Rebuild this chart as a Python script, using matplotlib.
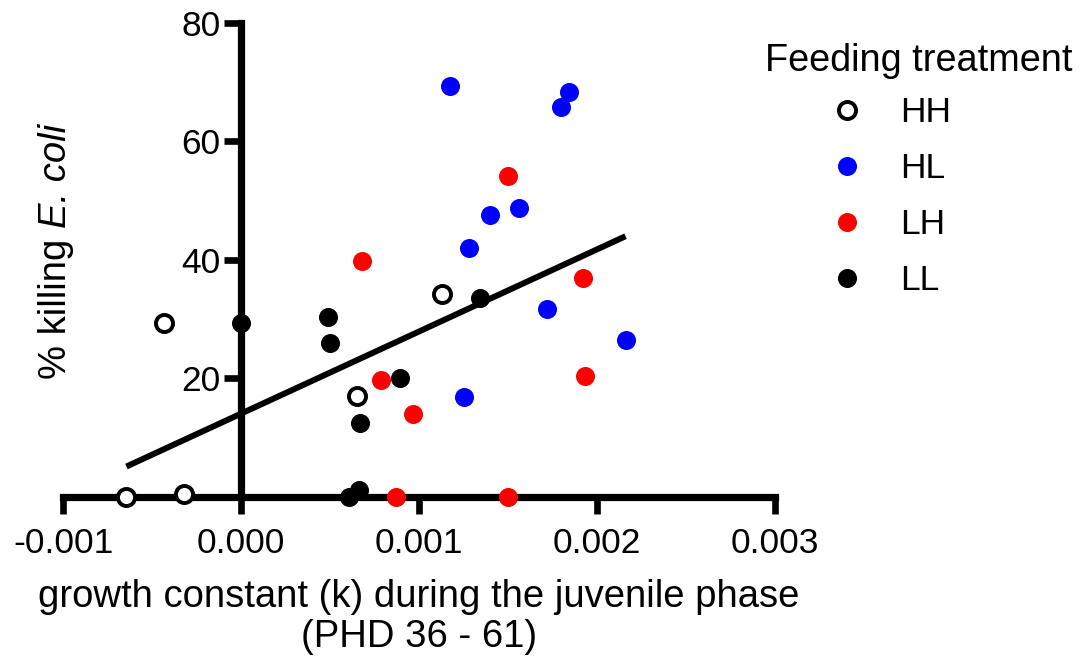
import matplotlib
matplotlib.use('Agg')
import matplotlib.pyplot as plt
import numpy as np
from matplotlib.lines import Line2D
from matplotlib.ticker import FormatStrFormatter

plt.rcParams['font.family'] = ['Liberation Sans', 'DejaVu Sans']

# ---- data (growth constant k, % killing E. coli) ----
groups = ['HH', 'HL', 'LH', 'LL']
hh_k = [-0.000645, -0.00032, -0.000436, 0.000649, 0.00113]
hh_kill = [0.0, 0.5, 29.3, 17.0, 34.2]
hl_k = [0.001174, 0.00184, 0.0018, 0.0014, 0.00156, 0.00128, 0.00172, 0.00216, 0.00125]
hl_kill = [69.3, 68.3, 65.8, 47.6, 48.7, 41.9, 31.6, 26.4, 16.8]
lh_k = [0.00068, 0.000785, 0.000967, 0.0015, 0.00192, 0.00193, 0.00087, 0.0015]
lh_kill = [39.7, 19.7, 13.9, 54.1, 36.9, 20.4, 0.0, 0.0]
ll_k = [0.0, 0.00049, 0.0005, 0.00067, 0.00089, 0.000607, 0.000664, 0.00134]
ll_kill = [29.3, 30.4, 26.0, 12.4, 20.0, 0.0, 1.2, 33.6]

x_ticks = [-0.001, 0.0, 0.001, 0.002, 0.003]
y_ticks = [20, 40, 60, 80]

W, H = 1092, 665
fig = plt.figure(figsize=(W / 100, H / 100), dpi=100)
ax = fig.add_axes([63.3 / W, 1 - 496.7 / H, (775 - 63.3) / W, (496.7 - 22.7) / H])
ax.set_xlim(-0.001, 0.003)
ax.set_ylim(0, 80)

# linear regression over all points
all_k = np.array(hh_k + hl_k + lh_k + ll_k)
all_kill = np.array(hh_kill + hl_kill + lh_kill + ll_kill)
slope, icpt = np.polyfit(all_k, all_kill, 1)
xs = np.array([all_k.min(), all_k.max()])
ax.plot(xs, slope * xs + icpt, color='black', lw=4.3, solid_capstyle='butt', zorder=3)

FILLED_MS = 13.7
styles = {
    'HH': dict(marker='o', ms=12.3, mfc='white', mec='black', mew=2.8),
    'HL': dict(marker='o', ms=FILLED_MS, mfc='#0000ff', mec='#0000ff', mew=0),
    'LH': dict(marker='o', ms=FILLED_MS, mfc='#ff0000', mec='#ff0000', mew=0),
    'LL': dict(marker='o', ms=FILLED_MS, mfc='black', mec='black', mew=0),
}
series = {'HH': (hh_k, hh_kill), 'HL': (hl_k, hl_kill), 'LH': (lh_k, lh_kill), 'LL': (ll_k, ll_kill)}
for g in groups:
    k, v = series[g]
    ax.plot(k, v, ls='none', clip_on=False, zorder=5, **styles[g])

for s in ['top', 'right']:
    ax.spines[s].set_visible(False)
ax.spines['left'].set_position(('data', 0))
for s in ['left', 'bottom']:
    ax.spines[s].set_linewidth(5.2)
    ax.spines[s].set_capstyle('projecting')

ax.set_xticks(x_ticks)
ax.set_yticks(y_ticks)
ax.xaxis.set_major_formatter(FormatStrFormatter('%.3f'))
ax.tick_params(axis='both', length=12.5, width=4.8, direction='out', labelsize=25.5)
ax.tick_params(axis='x', pad=9.0)
ax.tick_params(axis='y', pad=2.5)

def fx(px):
    return px / W

def fy(py):
    return 1 - py / H

fig.text(fx(419), fy(579), "growth constant (k) during the juvenile phase\n(PHD 36 - 61)",
         ha='center', va='top', fontsize=27.5, linespacing=1.15, multialignment='center')

# y label: "% killing " upright + "E. coli" italic, rotated 90 degrees
YL_FS = 27.5
renderer = fig.canvas.get_renderer()

def text_w(s, **kw):
    t = fig.text(0, 0, s, fontsize=YL_FS, **kw)
    w = t.get_window_extent(renderer).width
    t.remove()
    return w

pre = "% killing "
ital = "E. coli"
w_pre = text_w(pre + "E") - text_w("E")
w_it = text_w(ital, style='italic')
total = w_pre + w_it
y_start = 251 + total / 2
base_x = 66
fig.text(fx(base_x), fy(y_start), pre, rotation=90, rotation_mode='anchor',
         ha='left', va='baseline', fontsize=YL_FS)
fig.text(fx(base_x), fy(y_start - w_pre), ital, rotation=90, rotation_mode='anchor',
         ha='left', va='baseline', fontsize=YL_FS, style='italic')

# legend
fig.text(fx(919), fy(71), 'Feeding treatment', ha='center', va='baseline', fontsize=27.3)
legend_y = [109.5, 166, 222, 278]
for g, yc in zip(groups, legend_y):
    st = dict(styles[g])
    fig.add_artist(Line2D([fx(847)], [fy(yc)], transform=fig.transFigure, ls='none', **st))
    fig.text(fx(900), fy(yc + 12.5), g, ha='left', va='baseline', fontsize=25.5)

fig.savefig('out.png', dpi=100)
